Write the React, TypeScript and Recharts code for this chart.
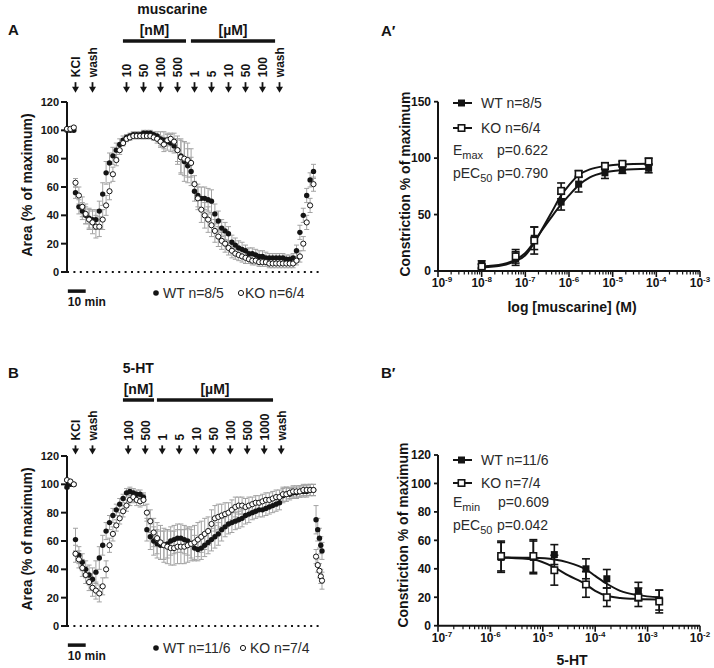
import React from "react";
import { ComposedChart, Scatter, Line, XAxis, YAxis, ErrorBar, ReferenceLine } from "recharts";

const FONT = "'Liberation Sans', Arial, Helvetica, sans-serif";
const INK = "#141414";
const SOFT = "#2a2a2a";

// ---------- time courses: sample times in minutes ----------
const sampleTimes = [0, 2, 4,
  5, 7, 9, 11, 13, 15, 17, 19, 21, 23,
  25, 27, 29, 31, 33, 35, 37, 39, 41, 43,
  45, 47, 49, 51, 53, 55, 57, 59, 61, 63,
  65, 67, 69, 71, 73, 75, 77, 79, 81, 83,
  85, 87, 89, 91, 93, 95, 97, 99, 101, 103,
  105, 107, 109, 111, 113, 115, 117, 119, 121, 123,
  125, 127, 129, 131, 133, 135, 137, 139, 141, 143,
  145];
const htTailTimes = [146.5, 147.5, 148.5, 149.3, 150];

// panel A: muscarine, area (% of maximum)
const muscWtArea = [100, 100, 100,
  56, 46, 43, 40, 38, 37, 37, 43, 55, 70,
  77, 82, 86, 90, 93, 95, 96, 97, 97, 97,
  98, 98, 98, 97, 96, 94, 93, 92, 91, 89,
  86, 82, 78, 75, 71, 57, 54, 52, 52, 51,
  50, 41, 36, 31, 29, 27, 21, 19, 17, 16,
  15, 13, 13, 12, 11, 11, 10, 10, 10, 10,
  10, 10, 9, 9, 10, 15, 28, 40, 54, 65,
  71];
const muscWtErr = [1, 1, 1,
  4, 5, 6, 6, 7, 7, 7, 7, 8, 8,
  7, 6, 5, 4, 3, 2, 2, 2, 2, 2,
  2, 2, 2, 2, 3, 5, 6, 6, 6, 5,
  8, 12, 14, 12, 10, 7, 8, 8, 8, 8,
  8, 7, 7, 6, 6, 5, 5, 5, 5, 5,
  4, 4, 4, 4, 4, 4, 4, 3, 3, 3,
  3, 3, 3, 3, 3, 4, 5, 5, 5, 5,
  5];
const muscKoArea = [101, 101, 102,
  63, 54, 46, 41, 37, 35, 32, 32, 37, 47,
  57, 69, 79, 86, 91, 94, 95, 96, 96, 96,
  96, 96, 96, 95, 94, 92, 90, 93, 94, 92,
  86, 81, 80, 79, 77, 62, 52, 44, 40, 37,
  33, 29, 25, 22, 20, 17, 15, 13, 12, 11,
  10, 9, 8, 8, 7, 7, 7, 6, 6, 6,
  6, 6, 6, 6, 6, 8, 11, 20, 35, 47,
  62];
const muscKoErr = [1, 1, 1,
  3, 6, 7, 7, 7, 8, 8, 7, 7, 7,
  6, 5, 4, 3, 2, 2, 2, 2, 2, 2,
  2, 2, 2, 2, 3, 4, 5, 4, 4, 6,
  10, 12, 12, 12, 10, 6, 8, 9, 9, 9,
  8, 8, 7, 6, 6, 5, 5, 4, 4, 4,
  4, 3, 3, 3, 3, 3, 3, 3, 3, 3,
  3, 3, 3, 3, 3, 3, 4, 5, 5, 5,
  5];

// panel B: 5-HT, area (% of maximum)
const htWtArea = [98, 100, 100,
  61, 50, 45, 40, 36, 33, 38, 48, 57, 67,
  73, 78, 82, 86, 90, 94, 95, 94, 93, 93,
  91, 68, 63, 60, 58, 57, 57, 58, 60, 61,
  62, 62, 61, 60, 58, 55, 54, 55, 57, 59,
  61, 63, 65, 68, 70, 72, 73, 74, 75, 76,
  78, 79, 80, 81, 82, 82, 83, 84, 85, 86,
  87, 92, 93, 93, 94, 94, 95, 95, 95, 96,
  96];
const htWtTail = [75, 68, 62, 57, 53];
const htWtErr = [1, 1, 1,
  8, 6, 6, 6, 7, 8, 8, 8, 7, 6,
  5, 5, 4, 4, 3, 3, 3, 3, 3, 3,
  3, 8, 9, 10, 10, 10, 10, 10, 10, 10,
  10, 10, 10, 10, 10, 9, 8, 8, 8, 8,
  8, 8, 8, 8, 7, 7, 7, 6, 6, 6,
  6, 6, 5, 5, 5, 5, 5, 5, 5, 5,
  5, 5, 5, 4, 4, 4, 4, 4, 4, 4,
  4];
const htWtTailErr = [10, 8, 7, 6, 6];
const htKoArea = [103, 102, 100,
  51, 47, 41, 36, 31, 27, 25, 23, 28, 40,
  57, 65, 71, 76, 81, 85, 89, 91, 89, 88,
  89, 80, 74, 66, 62, 59, 57, 56, 55, 55,
  56, 56, 56, 57, 58, 59, 61, 63, 65, 67,
  72, 76, 77, 78, 79, 80, 82, 84, 85, 85,
  84, 85, 86, 87, 87, 88, 89, 89, 90, 91,
  91, 93, 93, 94, 95, 95, 95, 96, 96, 96,
  96];
const htKoTail = [49, 43, 39, 35, 32];
const htKoErr = [1, 1, 1,
  6, 6, 6, 6, 6, 6, 6, 6, 6, 6,
  5, 5, 4, 4, 4, 4, 4, 4, 4, 4,
  4, 6, 8, 10, 11, 12, 12, 12, 12, 12,
  12, 12, 12, 12, 12, 12, 12, 11, 11, 10,
  10, 9, 9, 8, 8, 7, 7, 7, 6, 6,
  6, 6, 5, 5, 5, 5, 5, 5, 5, 5,
  5, 5, 5, 4, 4, 4, 4, 4, 4, 4,
  4];
const htKoTailErr = [5, 5, 5, 5, 6];

// drug additions (minutes) and their labels
const muscArrowTimes = [5, 15, 35, 45, 55, 65, 75, 85, 95, 105, 115, 125];
const muscArrowLabels = ["KCl", "wash", "10", "50", "100", "500", "1", "5", "10", "50", "100", "wash"];
const htArrowTimes = [5, 15, 36, 46, 56, 66, 76, 86, 96, 106, 116, 126];
const htArrowLabels = ["KCl", "wash", "100", "500", "1", "5", "10", "50", "100", "500", "1000", "wash"];
const areaTicks = [0, 20, 40, 60, 80, 100, 120];

// ---------- concentration-response ----------
const muscConc = [1e-8, 6e-8, 1.6e-7, 6.6e-7, 1.66e-6, 6.66e-6, 1.67e-5, 6.67e-5];
const muscWtResp = [6, 11, 29, 61, 77, 87, 89.5, 91];
const muscWtRespErr = [3, 6, 10, 7, 7, 5, 3, 4];
const muscKoResp = [4, 13, 27, 71, 86, 93, 95, 97];
const muscKoRespErr = [2, 6, 12, 7, 3, 3, 2, 3];
const muscFitConc = [1e-8, 3e-8, 6e-8, 1e-7, 1.6e-7, 2.5e-7, 4e-7, 6.6e-7, 1e-6, 1.66e-6, 3e-6, 6.66e-6, 1.67e-5, 6.67e-5];
const muscWtFit = [4, 6, 10, 16, 26, 37, 48, 59, 67, 76, 83, 87.5, 89.5, 90.5];
const muscKoFit = [3, 5, 9, 14, 25, 38, 52, 67, 76, 85, 90, 93, 94.5, 95];
const muscDecades = [-9, -8, -7, -6, -5, -4, -3];

const htConc = [1.6e-6, 6.6e-6, 1.66e-5, 6.66e-5, 1.667e-4, 6.667e-4, 1.667e-3];
const htWtResp = [48, 48, 50, 40, 33, 24, 18];
const htWtRespErr = [10.5, 11.5, 7, 7, 6.5, 6.5, 7];
const htKoResp = [49, 49, 39, 29, 20, 20, 17];
const htKoRespErr = [10.5, 11.5, 10.5, 9, 6.5, 6.5, 8];
const htFitConc = [1.6e-6, 6.6e-6, 1.66e-5, 3e-5, 6.66e-5, 1e-4, 1.667e-4, 3e-4, 6.667e-4, 1.667e-3];
const htWtFit = [48, 47.7, 46.5, 44.5, 39.5, 35, 29.5, 24.5, 21.5, 20];
const htKoFit = [48, 46.5, 41, 35.5, 29, 24.5, 21, 19.5, 18.8, 18.5];
const htDecades = [-7, -6, -5, -4, -3, -2];
const minorSteps = [1, 2, 3, 4, 5, 6, 7, 8, 9];

function zipTime(ts: number[], vs: number[], es: number[]) {
  return ts.map((t, i) => ({ t, v: vs[i], e: es[i] }));
}
function zipDose(cs: number[], vs: number[], es?: number[]) {
  return cs.map((x, i) => ({ x, y: vs[i], e: es ? es[i] : 0 }));
}
function logTicks(decades: number[]) {
  const out: number[] = [];
  decades.forEach((d, i) => {
    if (i === decades.length - 1) out.push(Math.pow(10, d));
    else minorSteps.forEach((k) => out.push(k * Math.pow(10, d)));
  });
  return out;
}

// ---------- small drawing helpers ----------
const noDot = () => <g />;
const filledDot = (p: any) => <circle cx={p.cx} cy={p.cy} r={2.7} fill={INK} />;
const openDot = (p: any) => <circle cx={p.cx} cy={p.cy} r={2.6} fill="#fff" stroke={INK} strokeWidth={1} />;
const filledSquare = (p: any) => <rect x={p.cx - 3.5} y={p.cy - 3.5} width={7} height={7} fill={INK} />;
const openSquare = (p: any) => (
  <rect x={p.cx - 3.2} y={p.cy - 3.2} width={6.4} height={6.4} fill="#fff" stroke={INK} strokeWidth={1.6} />
);

function DownArrow(p: any) {
  const { x1, y1, y2, text } = p;
  return (
    <g>
      <line x1={x1} y1={y1} x2={x1} y2={y2 - 5} stroke={INK} strokeWidth={1.8} />
      <polygon points={`${x1 - 3.5},${y2 - 6} ${x1 + 3.5},${y2 - 6} ${x1},${y2}`} fill={INK} />
      <text transform={`translate(${x1},${y1 - 5}) rotate(-90)`} dy="0.36em" fontSize={12} fontWeight={700} fill={INK}>
        {text}
      </text>
    </g>
  );
}

function UnitBar(p: any) {
  const { x1, x2, y1, text } = p;
  return (
    <g>
      <line x1={x1} x2={x2} y1={y1} y2={y1} stroke={INK} strokeWidth={3.5} />
      <text x={(x1 + x2) / 2} y={y1 - 10.5} dy="0.35em" textAnchor="middle" fontSize={14} fontWeight={700} fill={INK}>
        {text}
      </text>
    </g>
  );
}

function FreeText(p: any) {
  const { x1, y1, text, anchor } = p;
  return (
    <text x={x1} y={y1} dy="0.35em" textAnchor={anchor} fontSize={14} fontWeight={700} fill={INK}>
      {text}
    </text>
  );
}

function ScaleBar(p: any) {
  const { x1, x2, y1 } = p;
  return (
    <g>
      <line x1={x1} x2={x2} y1={y1} y2={y1} stroke={INK} strokeWidth={3.5} />
      <text x={x1} y={y1 + 11} dy="0.35em" fontSize={12} fontWeight={700} fill={INK}>
        10 min
      </text>
    </g>
  );
}

function LogTick(props: any) {
  const { x, y, payload, index } = props;
  const lg = Math.log10(payload.value);
  const exp = Math.round(lg);
  const major = Math.abs(lg - exp) < 1e-6;
  // first label nudged right so it clears the "0" of the value axis
  const lx = index === 0 ? x + 4 : x;
  return (
    <g>
      <line x1={x} x2={x} y1={y} y2={y + (major ? 6 : 3.5)} stroke={INK} strokeWidth={major ? 1.6 : 1.2} />
      {major && (
        <text x={lx} y={y + 16} textAnchor="middle" fontSize={12} fontWeight={700} fill={INK}>
          10<tspan dy={-5} fontSize={8}>{`${exp}`}</tspan>
        </text>
      )}
    </g>
  );
}

function Note({ x, y, children, size = 14, weight = 400, align = "left", rotate = false, color = INK }: any) {
  const tx = align === "center" ? "-50%" : "0";
  return (
    <div
      style={{
        position: "absolute",
        left: x,
        top: y,
        transform: `translate(${tx}, -50%)${rotate ? " rotate(-90deg)" : ""}`,
        fontSize: size,
        fontWeight: weight,
        whiteSpace: "nowrap",
        lineHeight: 1,
        color,
      }}
    >
      {children}
    </div>
  );
}

// ---------- time course panel ----------
function TimeCourse({ wt, ko, arrowTimes, arrowLabels, arrowTop, arrowTip, bars, barY, drug }: any) {
  return (
    <ComposedChart width={340} height={310} margin={{ top: 102, right: 18, bottom: 38, left: 27 }}>
      <XAxis type="number" dataKey="t" domain={[0, 150]} hide />
      <YAxis
        type="number"
        dataKey="v"
        domain={[0, 120]}
        ticks={areaTicks}
        interval={0}
        width={40}
        tickSize={6}
        tickMargin={2}
        axisLine={{ stroke: INK, strokeWidth: 2 }}
        tickLine={{ stroke: INK, strokeWidth: 2 }}
        tick={{ fontSize: 11, fontWeight: 700, fill: INK }}
      />
      <ReferenceLine y={0} stroke={INK} strokeWidth={2} strokeDasharray="2 4.4" />
      {arrowTimes.map((t: number, i: number) => (
        <ReferenceLine
          key={`ar${i}`}
          ifOverflow="visible"
          segment={[{ x: t, y: arrowTop }, { x: t, y: arrowTip }]}
          shape={(p: any) => <DownArrow {...p} text={arrowLabels[i]} />}
        />
      ))}
      {bars.map((b: any, i: number) => (
        <ReferenceLine
          key={`bar${i}`}
          ifOverflow="visible"
          segment={[{ x: b.from, y: barY }, { x: b.to, y: barY }]}
          shape={(p: any) => <UnitBar {...p} text={b.label} />}
        />
      ))}
      <ReferenceLine
        ifOverflow="visible"
        segment={[{ x: drug.t, y: drug.v }, { x: drug.t + 1, y: drug.v }]}
        shape={(p: any) => <FreeText {...p} text={drug.name} anchor={drug.anchor} />}
      />
      <ReferenceLine
        ifOverflow="visible"
        segment={[{ x: 0.5, y: -13.5 }, { x: 11, y: -13.5 }]}
        shape={(p: any) => <ScaleBar {...p} />}
      />
      <Scatter data={wt} shape={noDot} isAnimationActive={false}>
        <ErrorBar dataKey="e" direction="y" width={2.5} stroke="#a3a3a3" strokeWidth={1} isAnimationActive={false} />
      </Scatter>
      <Scatter data={ko} shape={noDot} isAnimationActive={false}>
        <ErrorBar dataKey="e" direction="y" width={2.5} stroke="#a3a3a3" strokeWidth={1} isAnimationActive={false} />
      </Scatter>
      <Scatter data={wt} shape={filledDot} isAnimationActive={false} />
      <Scatter data={ko} shape={openDot} isAnimationActive={false} />
    </ComposedChart>
  );
}

// ---------- concentration-response panel ----------
function DoseResponse({ height, top, domain, decades, yMax, yTicks, wtPts, koPts, wtFit, koFit }: any) {
  return (
    <ComposedChart width={354} height={height} margin={{ top, right: 14, bottom: height - top - 30 - (yMax === 150 ? 169.3 : 170.7), left: 38 }}>
      <XAxis
        type="number"
        dataKey="x"
        scale="log"
        domain={domain}
        allowDataOverflow
        ticks={logTicks(decades)}
        interval={0}
        height={30}
        tickSize={0}
        tickMargin={0}
        tickLine={false}
        axisLine={{ stroke: INK, strokeWidth: 2 }}
        tick={(p: any) => <LogTick {...p} />}
      />
      <YAxis
        type="number"
        dataKey="y"
        domain={[0, yMax]}
        ticks={yTicks}
        interval={0}
        width={40}
        tickSize={4}
        tickMargin={3}
        axisLine={{ stroke: INK, strokeWidth: 2 }}
        tickLine={{ stroke: INK, strokeWidth: 1.8 }}
        tick={{ fontSize: 12, fontWeight: 700, fill: INK }}
      />
      <Line data={wtFit} dataKey="y" type="monotone" stroke={INK} strokeWidth={2} dot={false} isAnimationActive={false} />
      <Line data={koFit} dataKey="y" type="monotone" stroke={INK} strokeWidth={2} dot={false} isAnimationActive={false} />
      <Scatter data={wtPts} shape={filledSquare} isAnimationActive={false}>
        <ErrorBar dataKey="e" direction="y" width={4} stroke={INK} strokeWidth={1.6} isAnimationActive={false} />
      </Scatter>
      <Scatter data={koPts} shape={openSquare} isAnimationActive={false}>
        <ErrorBar dataKey="e" direction="y" width={4} stroke={INK} strokeWidth={1.6} isAnimationActive={false} />
      </Scatter>
    </ComposedChart>
  );
}

function LegendRow({ x, y, open, text }: any) {
  return (
    <>
      <svg style={{ position: "absolute", left: x, top: y - 6 }} width={22} height={12}>
        <line x1={1} x2={20} y1={6} y2={6} stroke={INK} strokeWidth={2} />
        {open ? (
          <rect x={6.3} y={2.8} width={6.4} height={6.4} fill="#fff" stroke={INK} strokeWidth={1.6} />
        ) : (
          <rect x={6} y={2.5} width={7} height={7} fill={INK} />
        )}
      </svg>
      <Note x={x + 29} y={y} color={SOFT}>{text}</Note>
    </>
  );
}

function DotKey({ x, y, open }: any) {
  return (
    <svg style={{ position: "absolute", left: x - 4, top: y - 4 }} width={8} height={8}>
      {open ? <circle cx={4} cy={4} r={2.6} fill="#fff" stroke={INK} strokeWidth={1} /> : <circle cx={4} cy={4} r={2.8} fill={INK} />}
    </svg>
  );
}

const sub = (s: string) => <span style={{ fontSize: 11, position: "relative", top: 4 }}>{s}</span>;

export default function App() {
  const muscWt = zipTime(sampleTimes, muscWtArea, muscWtErr);
  const muscKo = zipTime(sampleTimes, muscKoArea, muscKoErr);
  const htTimes = [...sampleTimes, ...htTailTimes];
  const htWt = zipTime(htTimes, [...htWtArea, ...htWtTail], [...htWtErr, ...htWtTailErr]);
  const htKo = zipTime(htTimes, [...htKoArea, ...htKoTail], [...htKoErr, ...htKoTailErr]);

  return (
    <div
      style={{
        position: "absolute",
        left: 0,
        top: 0,
        width: 714,
        height: 668,
        background: "#fff",
        fontFamily: FONT,
        color: INK,
        overflow: "hidden",
      }}
    >
      {/* A: muscarine time course */}
      <div style={{ position: "absolute", left: 0, top: 0 }}>
        <TimeCourse
          wt={muscWt}
          ko={muscKo}
          arrowTimes={muscArrowTimes}
          arrowLabels={muscArrowLabels}
          arrowTop={134}
          arrowTip={126.5}
          barY={163}
          bars={[
            { from: 32.9, to: 70, label: "[nM]" },
            { from: 72.9, to: 122.4, label: "[µM]" },
          ]}
          drug={{ name: "muscarine", t: 61.9, v: 185.6, anchor: "middle" }}
        />
      </div>
      {/* B: 5-HT time course */}
      <div style={{ position: "absolute", left: 0, top: 354 }}>
        <TimeCourse
          wt={htWt}
          ko={htKo}
          arrowTimes={htArrowTimes}
          arrowLabels={htArrowLabels}
          arrowTop={127.5}
          arrowTip={121}
          barY={159.5}
          bars={[
            { from: 32.9, to: 51.2, label: "[nM]" },
            { from: 52.9, to: 121.2, label: "[µM]" },
          ]}
          drug={{ name: "5-HT", t: 32.8, v: 182, anchor: "start" }}
        />
      </div>
      {/* A' */}
      <div style={{ position: "absolute", left: 360, top: 60 }}>
        <DoseResponse
          height={270}
          top={41.7}
          domain={[1e-9, 1e-3]}
          decades={muscDecades}
          yMax={150}
          yTicks={[0, 50, 100, 150]}
          wtPts={zipDose(muscConc, muscWtResp, muscWtRespErr)}
          koPts={zipDose(muscConc, muscKoResp, muscKoRespErr)}
          wtFit={zipDose(muscFitConc, muscWtFit)}
          koFit={zipDose(muscFitConc, muscKoFit)}
        />
      </div>
      {/* B' */}
      <div style={{ position: "absolute", left: 360, top: 380 }}>
        <DoseResponse
          height={288}
          top={75}
          domain={[1e-7, 1e-2]}
          decades={htDecades}
          yMax={120}
          yTicks={[0, 20, 40, 60, 80, 100, 120]}
          wtPts={zipDose(htConc, htWtResp, htWtRespErr)}
          koPts={zipDose(htConc, htKoResp, htKoRespErr)}
          wtFit={zipDose(htFitConc, htWtFit)}
          koFit={zipDose(htFitConc, htKoFit)}
        />
      </div>

      {/* panel letters */}
      <Note x={8} y={29} size={15} weight={700}>A</Note>
      <Note x={381} y={30} size={15} weight={700}>A′</Note>
      <Note x={8} y={372} size={15} weight={700}>B</Note>
      <Note x={381} y={372} size={15} weight={700}>B′</Note>

      {/* axis titles */}
      <Note x={27} y={185} align="center" rotate weight={700}>Area (% of maximum)</Note>
      <Note x={27} y={539} align="center" rotate weight={700}>Area (% of maximum)</Note>
      <Note x={405} y={184} align="center" rotate weight={700}>Constriction % of maximum</Note>
      <Note x={403} y={535} align="center" rotate weight={700}>Constriction % of maximum</Note>
      <Note x={572} y={307} align="center" weight={700}>log [muscarine] (M)</Note>
      <Note x={572} y={660} align="center" weight={700}>5-HT</Note>

      {/* time-course keys */}
      <DotKey x={155.7} y={292.7} />
      <Note x={163} y={292.7} color={SOFT}>WT n=8/5</Note>
      <DotKey x={240.7} y={292.7} open />
      <Note x={245} y={292.7} color={SOFT}>KO n=6/4</Note>
      <DotKey x={155.7} y={648} />
      <Note x={163} y={648} color={SOFT}>WT n=11/6</Note>
      <DotKey x={243} y={648} open />
      <Note x={250} y={648} color={SOFT}>KO n=7/4</Note>

      {/* A' legend + stats */}
      <LegendRow x={452} y={103} text="WT n=8/5" />
      <LegendRow x={452} y={128} open text="KO n=6/4" />
      <Note x={453} y={150} color={SOFT}>E{sub("max")}</Note>
      <Note x={497} y={150} color={SOFT}>p=0.622</Note>
      <Note x={453} y={173} color={SOFT}>pEC{sub("50")}</Note>
      <Note x={497} y={173} color={SOFT}>p=0.790</Note>

      {/* B' legend + stats */}
      <LegendRow x={452} y={460} text="WT n=11/6" />
      <LegendRow x={452} y={483.3} open text="KO n=7/4" />
      <Note x={453} y={501.7} color={SOFT}>E{sub("min")}</Note>
      <Note x={498} y={501.7} color={SOFT}>p=0.609</Note>
      <Note x={453} y={525} color={SOFT}>pEC{sub("50")}</Note>
      <Note x={497} y={525} color={SOFT}>p=0.042</Note>
    </div>
  );
}
